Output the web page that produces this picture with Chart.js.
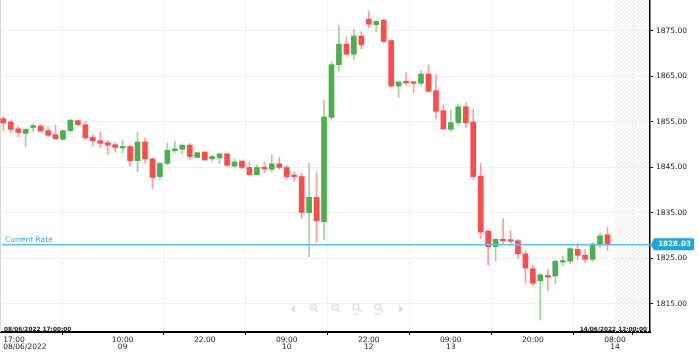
<!DOCTYPE html>
<html lang="en">
<head>
<meta charset="UTF-8">
<title>Gold hourly candles</title>
<script src="https://cdn.jsdelivr.net/npm/chart.js"></script>
<style>
  html, body { margin: 0; padding: 0; background: #fff; }
  .wrap { width: 699px; height: 355px; position: relative; }
</style>
</head>
<body>
<div class="wrap"><canvas id="rateChart"></canvas></div>
<script>
// hourly candles, 08/06/2022 17:00 -> 14/06/2022
const opens = [1855.7, 1855.0, 1853.5, 1852.5, 1853.8, 1854.1, 1853.1, 1852.2, 1851.2, 1853.1,
  1855.3, 1854.4, 1851.6, 1850.9, 1850.45, 1850.0, 1849.3, 1849.6, 1846.5, 1850.6,
  1846.9, 1843.0, 1845.9, 1848.7, 1849.0, 1849.9, 1847.2, 1848.4, 1846.9, 1847.1,
  1848.0, 1845.3, 1846.4, 1845.0, 1843.4, 1845.0, 1844.6, 1845.8, 1845.0, 1843.3,
  1843.0, 1835.1, 1838.45, 1833.1, 1856.0, 1867.6, 1872.1, 1869.9, 1873.9, 1877.6,
  1876.4, 1877.4, 1872.9, 1862.9, 1863.95, 1863.8, 1863.5, 1865.55, 1861.9, 1857.5,
  1853.4, 1854.85, 1858.35, 1855.0, 1843.1, 1831.0, 1827.6, 1829.2, 1829.1, 1828.9,
  1826.0, 1822.75, 1820.1, 1821.3, 1821.15, 1824.2, 1824.4, 1827.0, 1825.7, 1824.8,
  1828.0, 1830.2];
const highs = [1856.2, 1855.3, 1854.1, 1853.5, 1854.6, 1854.5, 1854.0, 1854.3, 1853.2, 1855.6,
  1855.4, 1855.15, 1852.2, 1852.8, 1850.9, 1850.45, 1851.0, 1849.9, 1852.8, 1851.5,
  1847.1, 1846.05, 1850.3, 1850.75, 1850.2, 1850.3, 1848.4, 1848.5, 1847.7, 1848.0,
  1848.1, 1846.9, 1846.5, 1846.2, 1845.6, 1846.2, 1847.8, 1847.2, 1845.5, 1844.0,
  1843.7, 1845.9, 1843.85, 1859.8, 1868.2, 1876.25, 1873.7, 1875.4, 1874.8, 1879.3,
  1877.3, 1877.6, 1873.0, 1863.9, 1865.8, 1863.8, 1866.3, 1867.5, 1865.4, 1858.8,
  1857.5, 1858.95, 1859.2, 1857.8, 1845.9, 1831.4, 1829.35, 1833.75, 1831.1, 1829.2,
  1826.7, 1823.5, 1821.75, 1822.6, 1824.7, 1825.55, 1827.45, 1828.3, 1827.0, 1828.5,
  1830.5, 1831.85];
const lows = [1853.1, 1852.65, 1851.8, 1849.6, 1852.8, 1852.8, 1851.8, 1851.2, 1851.0, 1852.8,
  1854.3, 1851.0, 1849.7, 1849.3, 1847.8, 1848.4, 1848.25, 1845.3, 1844.0, 1845.9,
  1840.4, 1842.4, 1845.55, 1848.25, 1848.0, 1846.8, 1847.1, 1846.5, 1846.4, 1845.8,
  1845.2, 1845.0, 1844.7, 1843.3, 1843.3, 1843.85, 1844.0, 1844.6, 1842.5, 1842.0,
  1833.8, 1825.4, 1828.5, 1829.2, 1855.4, 1866.1, 1869.7, 1868.8, 1871.1, 1875.7,
  1874.8, 1872.4, 1862.6, 1860.4, 1863.2, 1861.4, 1863.1, 1861.6, 1855.7, 1853.4,
  1853.0, 1854.3, 1853.7, 1842.4, 1829.35, 1823.6, 1824.4, 1828.3, 1827.9, 1824.95,
  1819.55, 1819.1, 1811.5, 1817.9, 1819.55, 1823.35, 1823.9, 1824.7, 1824.1, 1824.4,
  1827.3, 1826.7];
const closes = [1854.8, 1853.4, 1852.7, 1853.4, 1854.2, 1853.0, 1852.1, 1851.3, 1853.1, 1855.4,
  1854.4, 1851.5, 1850.9, 1850.3, 1849.9, 1849.4, 1849.6, 1846.5, 1850.6, 1846.9,
  1842.8, 1845.9, 1848.8, 1849.1, 1849.9, 1847.4, 1848.25, 1846.65, 1847.4, 1848.0,
  1845.5, 1846.2, 1845.0, 1843.4, 1845.0, 1844.7, 1845.8, 1845.0, 1843.0, 1843.0,
  1835.1, 1838.45, 1833.3, 1856.1, 1867.6, 1872.1, 1869.9, 1873.9, 1872.0, 1876.5,
  1877.1, 1872.7, 1862.9, 1863.8, 1863.6, 1863.5, 1865.55, 1861.75, 1857.35, 1853.5,
  1854.85, 1858.35, 1854.85, 1843.0, 1830.8, 1827.6, 1829.2, 1828.9, 1828.8, 1826.0,
  1822.9, 1819.55, 1821.4, 1820.9, 1824.4, 1824.5, 1827.15, 1825.7, 1824.8, 1828.2,
  1829.95, 1828.03];

const currentRate = 1828.03;

// x axis labels (candle index -> text)
const tickIndex = [0, 16, 27, 38, 49, 60, 71, 82];
const tickTime = ['17:00', '10:00', '22:00', '09:00', '22:00', '09:00', '20:00', '08:00'];
const tickDay = ['08/06/2022', '09', '', '10', '12', '13', '', '14'];
const yTicks = [1815, 1825, 1835, 1845, 1855, 1865, 1875];

const firstStamp = '08/06/2022 17:00:00';
const lastStamp = '14/06/2022 12:00:00';

const xMin = -0.44;
const xMax = 86.7;
const futureStart = 82;
const yMin = 1808.84;
const yMax = 1881.81;

const upColor = '#4cae4c';
const downColor = '#ff4b4b';
const upWick = 'rgba(76,174,76,0.55)';
const downWick = 'rgba(255,75,75,0.55)';
const rateColor = '#5cc3e6';
const rateBox = '#1aa7e0';

Chart.defaults.font.family = "'DejaVu Sans', Verdana, sans-serif";

function isUp(i) {
  return closes[i] >= opens[i];
}

const idx = opens.map((_, i) => i);
const bodyData = idx.map(i => ({ x: i, y: [opens[i], closes[i]] }));
const wickData = idx.map(i => ({ x: i, y: [lows[i], highs[i]] }));

const overlay = {
  id: 'overlay',
  beforeDatasetsDraw(chart) {
    const { ctx, chartArea: a, scales: { x } } = chart;
    const x0 = x.getPixelForValue(futureStart);
    const h = a.bottom - a.top;
    ctx.save();
    ctx.beginPath();
    ctx.rect(x0, a.top, a.right - x0 - 1, h);
    ctx.clip();
    ctx.strokeStyle = '#e8e8e8';
    ctx.lineWidth = 1;
    for (let k = -h; k < a.right - x0; k += 4) {
      ctx.beginPath();
      ctx.moveTo(x0 + k, a.bottom);
      ctx.lineTo(x0 + k + h, a.top);
      ctx.stroke();
    }
    ctx.restore();

    // thin left frame line
    ctx.save();
    ctx.strokeStyle = '#d8d8d8';
    ctx.beginPath();
    ctx.moveTo(a.left + 0.5, a.top);
    ctx.lineTo(a.left + 0.5, a.bottom);
    ctx.stroke();
    ctx.restore();
  },
  afterDatasetsDraw(chart) {
    const { ctx, chartArea: a, scales: { y } } = chart;
    const ry = y.getPixelForValue(currentRate);
    ctx.save();
    ctx.strokeStyle = rateColor;
    ctx.lineWidth = 1.5;
    ctx.beginPath();
    ctx.moveTo(a.left + 2, ry);
    ctx.lineTo(a.right, ry);
    ctx.stroke();
    ctx.fillStyle = '#27b1e6';
    ctx.font = "7.5px 'DejaVu Sans'";
    ctx.textBaseline = 'alphabetic';
    ctx.fillText('Current Rate', a.left + 5, ry - 3);
    ctx.restore();
  },
  afterDraw(chart) {
    const { ctx, chartArea: a, scales: { y } } = chart;
    const ry = y.getPixelForValue(currentRate);
    ctx.save();
    // rate box on the right axis
    ctx.fillStyle = rateBox;
    ctx.beginPath();
    ctx.moveTo(a.right + 1, ry);
    ctx.lineTo(a.right + 4, ry - 6.5);
    ctx.lineTo(a.right + 44, ry - 6.5);
    ctx.lineTo(a.right + 44, ry + 5.5);
    ctx.lineTo(a.right + 4, ry + 5.5);
    ctx.closePath();
    ctx.fill();
    ctx.fillStyle = '#fff';
    ctx.font = "bold 7.3px 'DejaVu Sans'";
    ctx.textAlign = 'center';
    ctx.textBaseline = 'middle';
    ctx.fillText(currentRate.toFixed(2), a.right + 24.5, ry - 0.5);

    // first / last time stamps
    ctx.fillStyle = '#222';
    ctx.font = "bold 5.8px 'DejaVu Sans'";
    ctx.textBaseline = 'alphabetic';
    ctx.textAlign = 'left';
    ctx.fillText(firstStamp, a.left + 4, a.bottom - 1.5);
    ctx.textAlign = 'right';
    ctx.fillText(lastStamp, a.right - 3, a.bottom - 1.5);

    // faded navigation icons
    const iy = a.bottom - 23;
    const cx = 347;
    ctx.strokeStyle = '#dcdcdc';
    ctx.fillStyle = '#dcdcdc';
    ctx.lineWidth = 1.2;
    ctx.beginPath();
    ctx.moveTo(cx - 56, iy);
    ctx.lineTo(cx - 52, iy - 4);
    ctx.lineTo(cx - 52, iy + 4);
    ctx.closePath();
    ctx.fill();
    ctx.beginPath();
    ctx.moveTo(cx + 56, iy);
    ctx.lineTo(cx + 52, iy - 4);
    ctx.lineTo(cx + 52, iy + 4);
    ctx.closePath();
    ctx.fill();
    [-34, -12, 9, 31].forEach((dx, k) => {
      const mx = cx + dx;
      ctx.beginPath();
      ctx.arc(mx, iy - 2, 3, 0, Math.PI * 2);
      ctx.stroke();
      ctx.beginPath();
      ctx.moveTo(mx + 2, iy);
      ctx.lineTo(mx + 5, iy + 3);
      ctx.stroke();
      if (k < 2) {
        ctx.beginPath();
        ctx.moveTo(mx - 1.5, iy - 2);
        ctx.lineTo(mx + 1.5, iy - 2);
        if (k === 0) {
          ctx.moveTo(mx, iy - 3.5);
          ctx.lineTo(mx, iy - 0.5);
        }
        ctx.stroke();
      } else {
        ctx.beginPath();
        ctx.moveTo(mx - 3, iy + 5);
        ctx.lineTo(mx + 3, iy + 5);
        ctx.stroke();
      }
    });
    ctx.restore();
  }
};

const ctx = document.getElementById('rateChart').getContext('2d');
new Chart(ctx, {
  type: 'bar',
  data: {
    datasets: [
      {
        label: 'body',
        data: bodyData,
        order: 1,
        grouped: false,
        barThickness: 5,
        minBarLength: 1.5,
        borderWidth: 0,
        backgroundColor: c => isUp(c.dataIndex) ? upColor : downColor
      },
      {
        label: 'wick',
        data: wickData,
        order: 2,
        grouped: false,
        barThickness: 1,
        borderWidth: 0,
        backgroundColor: c => isUp(c.dataIndex) ? upWick : downWick
      }
    ]
  },
  options: {
    responsive: true,
    maintainAspectRatio: false,
    animation: false,
    layout: { padding: 0 },
    plugins: {
      legend: { display: false },
      tooltip: { enabled: false }
    },
    scales: {
      x: {
        type: 'linear',
        min: xMin,
        max: xMax,
        bounds: 'data',
        offset: false,
        afterBuildTicks: s => {
          s.ticks = tickIndex.map(v => ({ value: v })).concat([{ value: xMax }]);
        },
        afterFit: s => {
          s.height = 23;
          s.paddingLeft = 0;
          s.paddingRight = 0;
        },
        ticks: {
          autoSkip: false,
          maxRotation: 0,
          minRotation: 0,
          align: 'inner',
          padding: 1,
          color: '#222',
          font: { size: 7.5, lineHeight: 0.95 },
          callback: v => {
            const k = tickIndex.indexOf(v);
            if (k < 0) return '';
            return tickDay[k] ? [tickTime[k], tickDay[k]] : tickTime[k];
          }
        },
        grid: { color: '#f3f3f3', tickColor: '#000', tickLength: 3 },
        border: { color: '#000', width: 2 }
      },
      y: {
        position: 'right',
        min: yMin,
        max: yMax,
        bounds: 'data',
        afterBuildTicks: s => {
          s.ticks = yTicks.map(v => ({ value: v }));
        },
        afterFit: s => {
          s.width = 49;
          s.paddingTop = 0;
          s.paddingBottom = 0;
        },
        ticks: {
          padding: 3,
          color: '#222',
          font: { size: 7.5 },
          callback: v => v.toFixed(2)
        },
        grid: { color: '#f1f1f1', tickColor: '#000', tickLength: 3 },
        border: { color: '#000', width: 1.5 }
      }
    }
  },
  plugins: [overlay]
});
</script>
</body>
</html>
